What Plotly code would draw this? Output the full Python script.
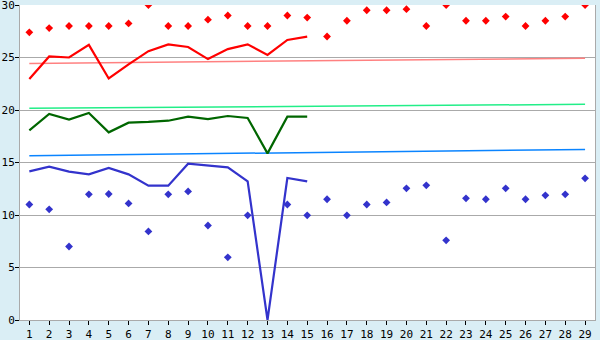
import plotly.graph_objects as go

days = list(range(1, 30))
line_days = list(range(1, 16))

red_points = [27.4, 27.8, 28.0, 28.0, 28.0, 28.25, 30.0, 28.0, 28.0, 28.6,
              29.0, 28.0, 28.0, 29.0, 28.8, 27.0, 28.5, 29.5, 29.5, 29.6,
              28.0, 30.0, 28.5, 28.5, 28.9, 28.0, 28.5, 28.9, 30.0]
blue_points = [11.0, 10.54, 7.0, 11.97, 12.0, 11.1, 8.44, 11.97, 12.25, 9.0,
               5.97, 9.97, None, 11.0, 9.97, 11.5, 9.97, 11.0, 11.2, 12.54,
               12.83, 7.59, 11.59, 11.5, 12.54, 11.5, 11.87, 11.97, 13.49]

red_line = [22.95, 25.1, 25.0, 26.2, 23.0, 24.35, 25.6, 26.25, 26.0, 24.85,
            25.8, 26.25, 25.25, 26.67, 26.98]
green_line = [18.06, 19.62, 19.08, 19.71, 17.87, 18.79, 18.86, 18.98, 19.37, 19.14,
              19.43, 19.24, 15.87, 19.36, 19.36]
blue_line = [14.16, 14.6, 14.13, 13.87, 14.48, 13.87, 12.79, 12.79, 14.89, 14.7,
             14.54, 13.21, 0.0, 13.52, 13.2]

trend_x = [1, 29]
red_trend = [24.44, 24.93]
green_trend = [20.16, 20.54]
blue_trend = [15.65, 16.25]

y_ticks = [0, 5, 10, 15, 20, 25, 30]

fig = go.Figure()

for ys, col in [(red_trend, "#ff8080"), (green_trend, "#22ee88"), (blue_trend, "#0a84ff")]:
    fig.add_trace(go.Scatter(x=trend_x, y=ys, mode="lines",
                             line=dict(color=col, width=1.5), hoverinfo="skip"))

for ys, col in [(red_line, "#ff0000"), (green_line, "#006600"), (blue_line, "#3333cc")]:
    fig.add_trace(go.Scatter(x=line_days, y=ys, mode="lines",
                             line=dict(color=col, width=2.2)))

fig.add_trace(go.Scatter(x=days, y=red_points, mode="markers",
                         marker=dict(symbol="diamond", size=6, color="#ff0000")))
fig.add_trace(go.Scatter(x=days, y=blue_points, mode="markers",
                         marker=dict(symbol="diamond", size=6, color="#3333cc")))

fig.update_layout(
    width=600, height=340,
    margin=dict(l=20, r=5, t=5, b=20),
    paper_bgcolor="#daeef5",
    plot_bgcolor="#ffffff",
    showlegend=False,
    font=dict(family="DejaVu Sans Mono", size=12, color="#000000"),
)
fig.update_xaxes(
    range=[0.53, 29.5], tickmode="array", tickvals=days,
    ticktext=[str(d) for d in days], automargin=False,
    showgrid=False, zeroline=False,
    showline=True, linecolor="#aaaaaa", linewidth=1,
    ticks="outside", ticklen=4, tickcolor="#000000", tickwidth=1,
    tickfont=dict(size=11), ticklabelstandoff=0,
)
fig.update_yaxes(
    range=[0, 30], tickmode="array", tickvals=y_ticks,
    ticktext=[str(v) for v in y_ticks], automargin=False,
    showgrid=True, gridcolor="#aaaaaa", gridwidth=1, zeroline=False,
    showline=True, linecolor="#aaaaaa", linewidth=1, mirror=True,
    ticks="outside", ticklen=4, tickcolor="#000000", tickwidth=1,
    ticklabeloverflow="allow", tickfont=dict(size=11), ticklabelstandoff=-2,
)

fig.write_html("out.html")
